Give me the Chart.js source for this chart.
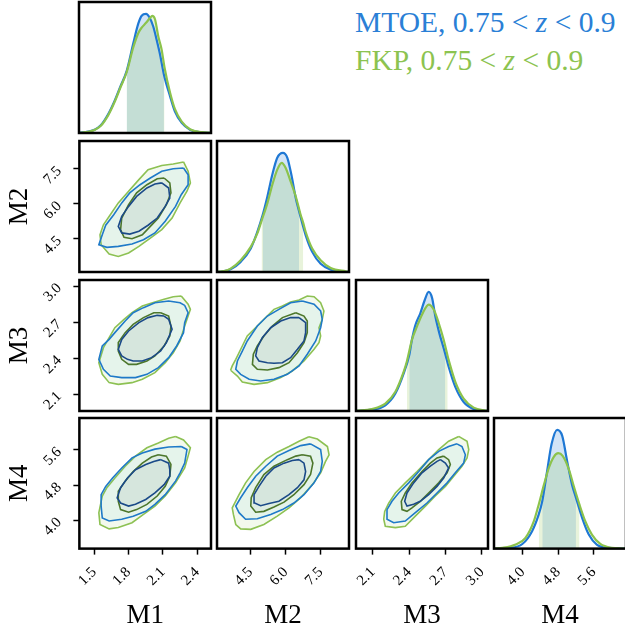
<!DOCTYPE html>
<html>
<head>
<meta charset="utf-8">
<script src="https://cdn.jsdelivr.net/npm/chart.js@4.4.1/dist/chart.umd.min.js"></script>
<style>
  body { margin: 0; background: #fff; width: 625px; height: 627px; overflow: hidden; position: relative; }
  canvas { position: absolute; }
  .leg { position: absolute; left: 355px; font-family: "Liberation Serif", serif; font-size: 29.5px; line-height: 1; white-space: nowrap; }
</style>
</head>
<body>
<div class="leg" style="top:8px;color:#2a7fd6">MTOE, 0.75 &lt; <i>z</i> &lt; 0.9</div>
<div class="leg" style="top:46px;color:#8cc350">FKP, 0.75 &lt; <i>z</i> &lt; 0.9</div>
<script>
// parameter ranges and ticks
var PARAMS = ["M1", "M2", "M3", "M4"];
var M1_RANGE = [1.37, 2.52], M2_RANGE = [3.07, 8.70], M3_RANGE = [1.96, 3.05], M4_RANGE = [3.35, 6.33];
var M1_TICKS = [1.5, 1.8, 2.1, 2.4];
var M2_TICKS = [4.5, 6.0, 7.5];
var M3_TICKS = [2.1, 2.4, 2.7, 3.0];
var M4_TICKS = [4.0, 4.8, 5.6];

// 1D marginals (density scaled so MTOE peak = 1)
var m1_x_mtoe = [1.37, 1.45, 1.51, 1.56, 1.625, 1.68, 1.73, 1.785, 1.843, 1.887, 1.916, 1.954, 1.988, 2.017, 2.047, 2.076, 2.11, 2.163, 2.206, 2.265, 2.337, 2.44, 2.52];
var m1_y_mtoe = [0.003, 0.012, 0.03, 0.065, 0.16, 0.27, 0.39, 0.52, 0.754, 0.92, 0.985, 1.0, 0.964, 0.894, 0.78, 0.66, 0.49, 0.31, 0.18, 0.085, 0.028, 0.006, 0.001];
var m1_x_fkp = [1.37, 1.45, 1.51, 1.56, 1.625, 1.68, 1.73, 1.785, 1.843, 1.887, 1.916, 1.954, 1.988, 2.008, 2.032, 2.061, 2.09, 2.115, 2.163, 2.206, 2.265, 2.337, 2.44, 2.52];
var m1_y_fkp = [0.002, 0.01, 0.028, 0.06, 0.15, 0.26, 0.38, 0.51, 0.72, 0.84, 0.885, 0.925, 0.965, 0.983, 0.955, 0.81, 0.70, 0.55, 0.34, 0.2, 0.095, 0.032, 0.007, 0.001];
var m1_ci_mtoe = [1.785, 2.11], m1_ci_fkp = [1.785, 2.115];

var m2_x_mtoe = [3.07, 3.23, 3.65, 4.08, 4.51, 4.79, 5.02, 5.22, 5.43, 5.64, 5.88, 6.07, 6.24, 6.43, 6.57, 6.85, 7.13, 7.49, 7.92, 8.56, 8.70];
var m2_y_mtoe = [0, 0.002, 0.023, 0.085, 0.197, 0.338, 0.48, 0.634, 0.818, 0.959, 1.0, 0.959, 0.818, 0.62, 0.51, 0.31, 0.169, 0.07, 0.02, 0.001, 0];
var m2_x_fkp = [3.07, 3.37, 3.65, 4.08, 4.51, 4.79, 4.97, 5.22, 5.43, 5.64, 5.83, 6.0, 6.21, 6.43, 6.64, 6.75, 6.85, 7.13, 7.49, 7.92, 8.56, 8.70];
var m2_y_fkp = [0.001, 0.008, 0.028, 0.099, 0.211, 0.324, 0.43, 0.578, 0.733, 0.86, 0.917, 0.874, 0.761, 0.634, 0.479, 0.41, 0.338, 0.197, 0.099, 0.034, 0.006, 0.002];
var m2_ci_mtoe = [5.02, 6.57], m2_ci_fkp = [4.97, 6.75];

var m3_x_mtoe = [1.96, 1.982, 2.092, 2.202, 2.285, 2.354, 2.40, 2.422, 2.45, 2.491, 2.527, 2.56, 2.588, 2.615, 2.648, 2.684, 2.697, 2.725, 2.78, 2.849, 2.932, 3.028, 3.05];
var m3_y_mtoe = [0, 0.001, 0.011, 0.048, 0.147, 0.316, 0.47, 0.6, 0.72, 0.82, 0.93, 1.0, 0.95, 0.795, 0.654, 0.527, 0.48, 0.372, 0.203, 0.076, 0.017, 0.001, 0];
var m3_x_fkp = [1.96, 2.092, 2.202, 2.285, 2.354, 2.381, 2.422, 2.464, 2.505, 2.56, 2.602, 2.643, 2.684, 2.717, 2.725, 2.78, 2.849, 2.932, 3.028, 3.05];
var m3_y_fkp = [0.001, 0.017, 0.062, 0.161, 0.33, 0.42, 0.598, 0.711, 0.809, 0.894, 0.852, 0.739, 0.598, 0.46, 0.429, 0.245, 0.104, 0.028, 0.003, 0];
var m3_ci_mtoe = [2.40, 2.697], m3_ci_fkp = [2.381, 2.717];

var m4_x_mtoe = [3.35, 3.69, 3.99, 4.21, 4.36, 4.44, 4.55, 4.65, 4.775, 4.89, 5.0, 5.11, 5.20, 5.34, 5.49, 5.67, 5.94, 6.24, 6.33];
var m4_y_mtoe = [0, 0.006, 0.039, 0.147, 0.288, 0.40, 0.654, 0.88, 1.0, 0.95, 0.739, 0.541, 0.429, 0.259, 0.118, 0.034, 0.006, 0.001, 0];
var m4_x_fkp = [3.35, 3.54, 3.84, 4.06, 4.25, 4.36, 4.48, 4.59, 4.70, 4.80, 4.90, 5.04, 5.15, 5.28, 5.41, 5.56, 5.75, 6.01, 6.24, 6.33];
var m4_y_fkp = [0.001, 0.006, 0.034, 0.09, 0.231, 0.372, 0.541, 0.682, 0.773, 0.804, 0.781, 0.668, 0.527, 0.37, 0.231, 0.118, 0.039, 0.006, 0.001, 0];
var m4_ci_mtoe = [4.44, 5.20], m4_ci_fkp = [4.36, 5.28];

// 2D contours [x, y] (outer and inner levels)
var m1m2_fkp_outer = [[2.28,7.80],[2.32,7.40],[2.34,6.90],[2.31,6.54],[2.25,6.04],[2.18,5.39],[2.09,4.89],[1.99,4.53],[1.89,4.17],[1.80,3.89],[1.71,3.74],[1.63,3.84],[1.56,4.24],[1.55,4.67],[1.58,5.10],[1.64,5.53],[1.71,6.04],[1.80,6.54],[1.89,7.04],[1.97,7.47],[2.09,7.65],[2.19,7.71]];
var m1m2_mtoe_outer = [[2.28,7.54],[2.32,7.25],[2.32,6.82],[2.26,6.39],[2.21,5.89],[2.12,5.25],[2.03,4.75],[1.93,4.46],[1.83,4.27],[1.71,4.17],[1.61,4.13],[1.54,4.24],[1.57,4.67],[1.60,5.08],[1.67,5.53],[1.74,6.04],[1.81,6.47],[1.90,6.82],[1.99,7.11],[2.09,7.40],[2.19,7.51]];
var m1m2_fkp_inner = [[2.11,7.11],[2.16,6.90],[2.17,6.47],[2.13,5.96],[2.06,5.39],[1.99,5.03],[1.92,4.67],[1.83,4.50],[1.76,4.56],[1.73,4.89],[1.74,5.39],[1.80,5.96],[1.87,6.47],[1.96,6.82],[2.05,7.08]];
var m1m2_mtoe_inner = [[2.09,6.90],[2.15,6.68],[2.16,6.25],[2.12,5.89],[2.05,5.39],[1.97,5.08],[1.89,4.82],[1.81,4.70],[1.74,4.75],[1.71,5.03],[1.74,5.46],[1.80,5.89],[1.87,6.32],[1.96,6.68],[2.03,6.85]];

var m1m3_fkp_outer = [[2.26,2.917],[2.32,2.848],[2.34,2.806],[2.29,2.667],[2.25,2.543],[2.19,2.445],[2.12,2.362],[2.03,2.279],[1.92,2.224],[1.83,2.196],[1.71,2.182],[1.63,2.196],[1.57,2.265],[1.54,2.362],[1.58,2.487],[1.63,2.57],[1.68,2.653],[1.76,2.723],[1.83,2.778],[1.92,2.834],[2.03,2.867],[2.11,2.889],[2.19,2.911]];
var m1m3_mtoe_outer = [[2.29,2.839],[2.32,2.778],[2.29,2.695],[2.28,2.612],[2.22,2.501],[2.15,2.404],[2.06,2.321],[1.96,2.265],[1.86,2.238],[1.74,2.238],[1.64,2.251],[1.58,2.307],[1.54,2.39],[1.57,2.501],[1.63,2.556],[1.68,2.612],[1.77,2.709],[1.84,2.778],[1.93,2.82],[2.03,2.861],[2.15,2.875],[2.25,2.861]];
var m1m3_fkp_inner = [[2.08,2.778],[2.15,2.75],[2.17,2.667],[2.16,2.584],[2.11,2.501],[2.03,2.418],[1.96,2.376],[1.87,2.348],[1.80,2.348],[1.74,2.39],[1.71,2.459],[1.71,2.529],[1.77,2.612],[1.84,2.681],[1.93,2.737],[2.02,2.778]];
var m1m3_mtoe_inner = [[2.11,2.75],[2.15,2.723],[2.18,2.64],[2.13,2.529],[2.08,2.459],[2.00,2.404],[1.92,2.376],[1.84,2.376],[1.79,2.39],[1.74,2.418],[1.71,2.473],[1.74,2.556],[1.80,2.626],[1.89,2.695],[1.97,2.737],[2.05,2.756]];

var m2m3_fkp_outer = [[3.65,2.299],[3.94,2.251],[4.15,2.201],[4.65,2.182],[5.22,2.196],[5.79,2.238],[6.28,2.293],[6.78,2.376],[7.21,2.473],[7.42,2.529],[7.49,2.584],[7.42,2.653],[7.56,2.723],[7.63,2.792],[7.49,2.861],[7.21,2.911],[6.92,2.917],[6.57,2.884],[6.21,2.867],[5.86,2.834],[5.50,2.806],[5.07,2.723],[4.65,2.64],[4.36,2.584],[4.15,2.501],[3.87,2.39],[3.72,2.335]];
var m2m3_mtoe_outer = [[6.71,2.875],[7.21,2.848],[7.49,2.792],[7.56,2.723],[7.49,2.653],[7.28,2.543],[6.92,2.432],[6.57,2.335],[6.07,2.265],[5.50,2.224],[4.93,2.21],[4.44,2.224],[4.08,2.265],[3.87,2.307],[3.94,2.376],[4.15,2.459],[4.36,2.543],[4.79,2.667],[5.22,2.75],[5.71,2.806],[6.21,2.861]];
var m2m3_fkp_inner = [[6.43,2.778],[6.78,2.75],[6.92,2.709],[6.92,2.612],[6.78,2.529],[6.50,2.445],[6.14,2.362],[5.71,2.321],[5.22,2.301],[4.79,2.307],[4.58,2.348],[4.62,2.432],[4.79,2.501],[5.07,2.584],[5.43,2.667],[5.86,2.737]];
var m2m3_mtoe_inner = [[6.57,2.737],[6.85,2.695],[6.85,2.612],[6.78,2.543],[6.50,2.473],[6.21,2.404],[5.86,2.362],[5.50,2.357],[5.22,2.362],[4.86,2.376],[4.72,2.418],[4.79,2.487],[5.00,2.57],[5.36,2.653],[5.79,2.709],[6.21,2.737]];

var m1m4_fkp_outer = [[2.21,5.91],[2.28,5.83],[2.34,5.65],[2.32,5.46],[2.29,5.19],[2.21,4.85],[2.12,4.55],[2.03,4.32],[1.93,4.13],[1.83,3.94],[1.71,3.83],[1.63,3.80],[1.55,3.90],[1.54,4.17],[1.57,4.55],[1.61,4.74],[1.68,4.96],[1.77,5.23],[1.86,5.46],[1.96,5.65],[2.06,5.76],[2.15,5.87]];
var m1m4_mtoe_outer = [[2.26,5.68],[2.31,5.61],[2.29,5.30],[2.25,5.08],[2.21,4.89],[2.12,4.58],[2.03,4.36],[1.95,4.20],[1.84,4.09],[1.74,4.02],[1.63,3.98],[1.57,4.05],[1.56,4.32],[1.56,4.58],[1.60,4.77],[1.66,4.96],[1.74,5.19],[1.83,5.42],[1.92,5.53],[2.03,5.62],[2.15,5.67]];
var m1m4_fkp_inner = [[2.06,5.49],[2.13,5.46],[2.17,5.27],[2.16,5.00],[2.12,4.77],[2.05,4.55],[1.96,4.36],[1.87,4.24],[1.80,4.18],[1.73,4.24],[1.71,4.43],[1.71,4.66],[1.77,4.89],[1.84,5.11],[1.92,5.30],[2.00,5.44]];
var m1m4_mtoe_inner = [[2.08,5.38],[2.15,5.30],[2.16,5.15],[2.16,5.00],[2.11,4.81],[2.03,4.62],[1.95,4.47],[1.86,4.36],[1.80,4.32],[1.73,4.39],[1.70,4.51],[1.73,4.74],[1.79,4.96],[1.86,5.15],[1.95,5.27],[2.02,5.34]];

var m2m4_fkp_outer = [[6.99,5.90],[7.35,5.85],[7.78,5.68],[7.85,5.49],[7.70,5.34],[7.49,5.08],[7.14,4.81],[6.64,4.51],[6.14,4.28],[5.64,4.09],[5.07,3.90],[4.51,3.79],[4.08,3.80],[3.87,3.90],[3.77,4.13],[3.72,4.28],[4.01,4.58],[4.29,4.85],[4.65,5.11],[5.15,5.38],[5.64,5.55],[6.14,5.68],[6.57,5.80]];
var m2m4_mtoe_outer = [[7.06,5.74],[7.49,5.61],[7.56,5.34],[7.49,5.11],[7.21,4.85],[6.78,4.58],[6.35,4.39],[5.86,4.24],[5.36,4.13],[4.79,4.03],[4.29,4.02],[4.01,4.17],[3.87,4.32],[4.08,4.51],[4.36,4.74],[4.72,5.00],[5.15,5.23],[5.64,5.46],[6.14,5.59],[6.64,5.70]];
var m2m4_fkp_inner = [[6.71,5.49],[7.06,5.46],[7.16,5.30],[7.06,5.04],[6.78,4.81],[6.35,4.58],[5.93,4.41],[5.50,4.30],[5.07,4.20],[4.72,4.18],[4.51,4.32],[4.53,4.51],[4.72,4.74],[5.07,5.04],[5.50,5.23],[6.07,5.38],[6.43,5.46]];
var m2m4_mtoe_inner = [[6.57,5.38],[6.78,5.30],[6.85,5.11],[6.78,4.92],[6.50,4.74],[6.14,4.58],[5.71,4.43],[5.29,4.38],[4.93,4.33],[4.68,4.39],[4.65,4.58],[4.86,4.77],[5.15,5.00],[5.50,5.19],[5.93,5.30],[6.28,5.36]];

var m3m4_fkp_outer = [[2.808,5.91],[2.877,5.80],[2.891,5.61],[2.877,5.42],[2.835,5.23],[2.767,5.00],[2.698,4.77],[2.615,4.55],[2.533,4.32],[2.45,4.09],[2.367,3.86],[2.285,3.83],[2.202,3.86],[2.189,4.02],[2.197,4.20],[2.23,4.39],[2.285,4.62],[2.367,4.85],[2.464,5.11],[2.56,5.38],[2.643,5.61],[2.725,5.80]];
var m3m4_mtoe_outer = [[2.794,5.74],[2.835,5.68],[2.863,5.49],[2.849,5.30],[2.78,5.08],[2.712,4.85],[2.629,4.62],[2.546,4.39],[2.45,4.17],[2.367,3.98],[2.271,3.94],[2.216,4.02],[2.216,4.24],[2.257,4.43],[2.312,4.62],[2.395,4.85],[2.478,5.11],[2.56,5.38],[2.643,5.57],[2.725,5.68]];
var m3m4_fkp_inner = [[2.684,5.46],[2.725,5.38],[2.739,5.27],[2.712,5.08],[2.643,4.85],[2.574,4.66],[2.491,4.43],[2.422,4.28],[2.381,4.20],[2.34,4.24],[2.334,4.43],[2.367,4.62],[2.422,4.85],[2.505,5.11],[2.574,5.30],[2.629,5.42]];
var m3m4_mtoe_inner = [[2.657,5.38],[2.698,5.30],[2.725,5.19],[2.684,4.96],[2.629,4.77],[2.56,4.58],[2.491,4.43],[2.436,4.36],[2.381,4.32],[2.362,4.43],[2.381,4.62],[2.436,4.85],[2.505,5.08],[2.574,5.23],[2.629,5.34]];

// ---- layout / style ----
var SERIF = '"Liberation Serif", serif';
var RANGES = [M1_RANGE, M2_RANGE, M3_RANGE, M4_RANGE];
var TICKS = [M1_TICKS, M2_TICKS, M3_TICKS, M4_TICKS];
var COL_LEFT = [79, 217, 356, 494];
var ROW_TOP = [2, 141, 280, 418];
var BOX_W = 132, BOX_H = 131, PAD = 3;

var BLUE = '#1f78d4', GREEN = '#8cc34c';

var framePlugin = {
    id: 'frame',
    afterDatasetsDraw: function (chart) {
        var a = chart.chartArea, ctx = chart.ctx;
        ctx.save();
        ctx.strokeStyle = '#000';
        ctx.lineWidth = 2.5;
        ctx.strokeRect(a.left, a.top, a.right - a.left, a.bottom - a.top);
        ctx.restore();
    }
};

function axisOpts(i, axis, show) {
    var o = { type: 'linear', min: RANGES[i][0], max: RANGES[i][1], display: show };
    if (!show) return o;
    o.afterBuildTicks = function (s) { s.ticks = TICKS[i].map(function (v) { return { value: v }; }); };
    o.afterFit = function (s) { s.paddingLeft = s.paddingRight = s.paddingTop = s.paddingBottom = 0; };
    o.grid = { drawOnChartArea: false, drawTicks: true, tickLength: 6, tickWidth: 1.5, tickColor: '#000' };
    o.border = { display: false };
    o.ticks = {
        autoSkip: false, minRotation: 45, maxRotation: 45, padding: axis === 'x' ? 9 : 14, color: '#000',
        font: { family: SERIF, size: 15 },
        callback: function (v) { return Number(v).toFixed(1); }
    };
    o.title = { display: true, text: PARAMS[i], color: '#000', font: { family: SERIF, size: 27 },
        padding: axis === 'x' ? { top: 1, bottom: 1 } : { top: 0, bottom: -17 } };
    return o;
}

function pts(xs, ys) { return xs.map(function (x, k) { return { x: x, y: ys[k] }; }); }
function ciPts(xs, ys, ci) { return pts(xs, ys).filter(function (p) { return p.x >= ci[0] && p.x <= ci[1]; }); }

function marginal(xs1, ys1, ci1, xs2, ys2, ci2) {
    var smooth = { cubicInterpolationMode: 'monotone', pointRadius: 0, showLine: true };
    return [
        Object.assign({ data: pts(xs2, ys2), borderColor: GREEN, borderWidth: 2.2, order: 1 }, smooth),
        Object.assign({ data: pts(xs1, ys1), borderColor: BLUE, borderWidth: 2.2, order: 2 }, smooth),
        Object.assign({ data: ciPts(xs2, ys2, ci2), borderWidth: 0, fill: 'origin', backgroundColor: 'rgba(139,195,74,0.2)', order: 3 }, smooth),
        Object.assign({ data: ciPts(xs1, ys1, ci1), borderWidth: 0, fill: 'origin', backgroundColor: 'rgba(30,120,215,0.2)', order: 4 }, smooth)
    ];
}

function contour(arr, line, bg, order) {
    return {
        data: arr.concat([arr[0]]).map(function (p) { return { x: p[0], y: p[1] }; }),
        showLine: true, fill: 'shape', borderColor: line, backgroundColor: bg,
        borderWidth: 1.6, pointRadius: 0, order: order
    };
}

function joint(mo, mi, fo, fi) {
    return [
        contour(mi, '#1b4a88', 'rgba(30,60,100,0.045)', 1),
        contour(fi, '#4d772c', 'rgba(60,90,50,0.045)', 2),
        contour(mo, '#1f7ac8', 'rgba(60,180,210,0.08)', 3),
        contour(fo, '#8dc153', 'rgba(139,195,74,0.10)', 4)
    ];
}

function panel(r, c, makeData) {
    var hasY = c === 0 && r > 0, hasX = r === 3, diag = r === c;
    var cv = document.createElement('canvas');
    document.body.appendChild(cv);
    function config() {
        return {
            type: 'scatter',
            data: { datasets: makeData() },
            options: {
                responsive: false, maintainAspectRatio: false, animation: false,
                layout: { padding: PAD, autoPadding: false },
                elements: { line: { tension: 0 } },
                plugins: { legend: { display: false }, tooltip: { enabled: false } },
                scales: {
                    x: axisOpts(c, 'x', hasX),
                    y: diag ? { min: 0, max: 1.1, display: false } : axisOpts(r, 'y', hasY)
                }
            },
            plugins: [framePlugin]
        };
    }
    // first pass: measure the room the axes take, then size the canvas so the plot box is BOX_W x BOX_H
    var w0 = BOX_W + 2 * PAD + (hasY ? 100 : 0), h0 = BOX_H + 2 * PAD + (hasX ? 100 : 0);
    cv.width = w0; cv.height = h0;
    var chart = new Chart(cv, config());
    var a = chart.chartArea;
    var w = Math.round(w0 + BOX_W - (a.right - a.left)), h = Math.round(h0 + BOX_H - (a.bottom - a.top));
    chart.destroy();
    cv.width = w; cv.height = h;
    cv.style.width = w + 'px'; cv.style.height = h + 'px';
    chart = new Chart(cv, config());
    a = chart.chartArea;
    cv.style.left = (COL_LEFT[c] - a.left) + 'px';
    cv.style.top = (ROW_TOP[r] - a.top) + 'px';
}

panel(0, 0, function () { return marginal(m1_x_mtoe, m1_y_mtoe, m1_ci_mtoe, m1_x_fkp, m1_y_fkp, m1_ci_fkp); });
panel(1, 1, function () { return marginal(m2_x_mtoe, m2_y_mtoe, m2_ci_mtoe, m2_x_fkp, m2_y_fkp, m2_ci_fkp); });
panel(2, 2, function () { return marginal(m3_x_mtoe, m3_y_mtoe, m3_ci_mtoe, m3_x_fkp, m3_y_fkp, m3_ci_fkp); });
panel(3, 3, function () { return marginal(m4_x_mtoe, m4_y_mtoe, m4_ci_mtoe, m4_x_fkp, m4_y_fkp, m4_ci_fkp); });

panel(1, 0, function () { return joint(m1m2_mtoe_outer, m1m2_mtoe_inner, m1m2_fkp_outer, m1m2_fkp_inner); });
panel(2, 0, function () { return joint(m1m3_mtoe_outer, m1m3_mtoe_inner, m1m3_fkp_outer, m1m3_fkp_inner); });
panel(2, 1, function () { return joint(m2m3_mtoe_outer, m2m3_mtoe_inner, m2m3_fkp_outer, m2m3_fkp_inner); });
panel(3, 0, function () { return joint(m1m4_mtoe_outer, m1m4_mtoe_inner, m1m4_fkp_outer, m1m4_fkp_inner); });
panel(3, 1, function () { return joint(m2m4_mtoe_outer, m2m4_mtoe_inner, m2m4_fkp_outer, m2m4_fkp_inner); });
panel(3, 2, function () { return joint(m3m4_mtoe_outer, m3m4_mtoe_inner, m3m4_fkp_outer, m3m4_fkp_inner); });
</script>
</body>
</html>
